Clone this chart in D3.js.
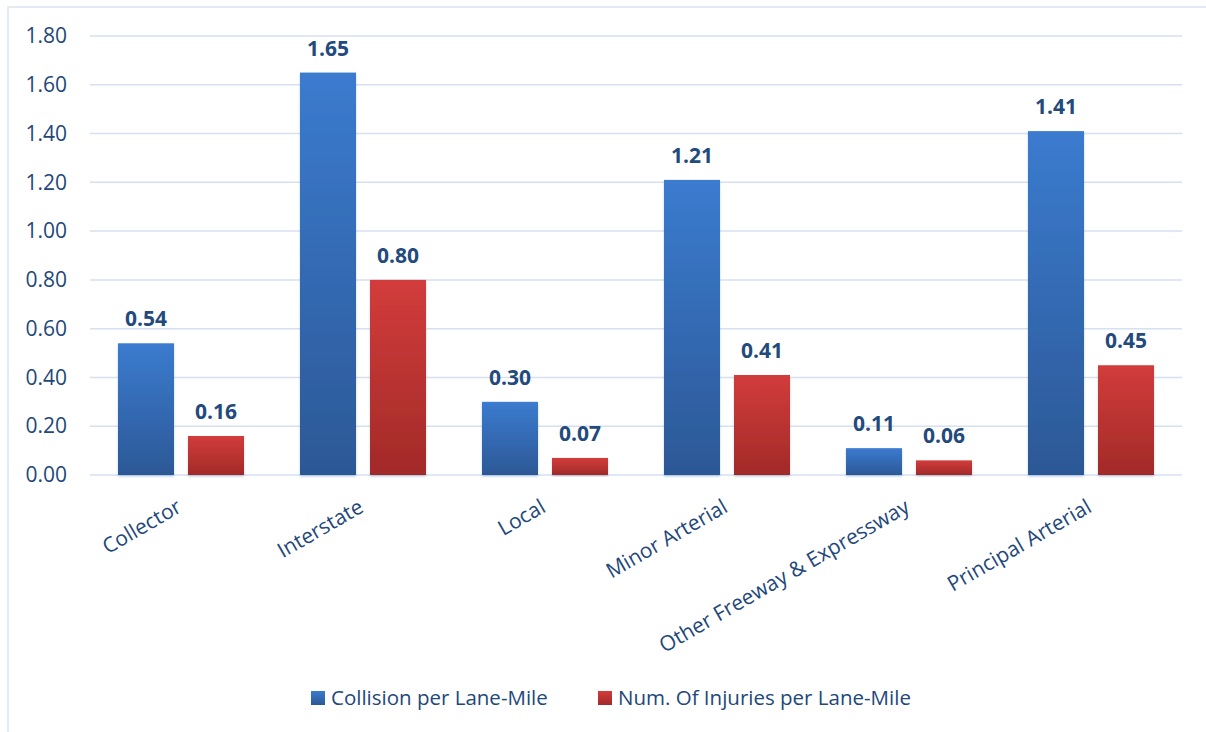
<!DOCTYPE html>
<html>
<head>
<meta charset="utf-8">
<script src="https://cdn.jsdelivr.net/npm/d3@7"></script>
<style>
  html, body { margin: 0; padding: 0; background: #ffffff; }
  svg { display: block; font-family: "Open Sans", "Noto Sans", sans-serif; }
</style>
</head>
<body>
<svg id="chart" width="1206" height="732"></svg>
<script>
// Road classes and their rates per lane-mile
const categories = ["Collector", "Interstate", "Local", "Minor Arterial", "Other Freeway & Expressway", "Principal Arterial"];
const collisionPerLaneMile = [0.54, 1.65, 0.30, 1.21, 0.11, 1.41];
const injuriesPerLaneMile = [0.16, 0.80, 0.07, 0.41, 0.06, 0.45];
const seriesNames = ["Collision per Lane-Mile", "Num. Of Injuries per Lane-Mile"];
const yTicks = [0, 0.2, 0.4, 0.6, 0.8, 1.0, 1.2, 1.4, 1.6, 1.8];

const seriesValues = [collisionPerLaneMile, injuriesPerLaneMile];
const rows = categories.map((c, i) => ({ category: c, values: seriesValues.map(s => s[i]) }));

const svg = d3.select("#chart");
const textColor = "#22477a";
const gridColor = "#d5e0f0";

const plot = { left: 90, right: 1182, top: 36, bottom: 475 };

// Gradients for the two series
const defs = svg.append("defs");
const gradStops = [
  ["grad-0", "#3b7bcf", "#2c5896"],
  ["grad-1", "#d23c3b", "#a22a28"]
];
gradStops.forEach(([id, top, bottom]) => {
  const g = defs.append("linearGradient").attr("id", id)
    .attr("x1", 0).attr("y1", 0).attr("x2", 0).attr("y2", 1);
  g.append("stop").attr("offset", "0%").attr("stop-color", top);
  g.append("stop").attr("offset", "100%").attr("stop-color", bottom);
});
const shadow = defs.append("filter").attr("id", "barShadow")
  .attr("x", "-20%").attr("y", "-5%").attr("width", "140%").attr("height", "115%");
shadow.append("feDropShadow").attr("dx", 0).attr("dy", 1.5).attr("stdDeviation", 1.2)
  .attr("flood-color", "#6d8fbf").attr("flood-opacity", 0.45);

// Outer chart border (continues past the right and bottom edges)
svg.append("rect")
  .attr("x", 8).attr("y", 7).attr("width", 1220).attr("height", 740)
  .attr("fill", "none").attr("stroke", "#d9e3f1").attr("stroke-width", 1.5);

// Scales
const x = d3.scaleBand().domain(categories).range([plot.left, plot.right]).padding(0);
const xSub = d3.scaleBand().domain(d3.range(seriesValues.length))
  .range([0, x.bandwidth()]).paddingInner(0.2).paddingOuter(0.4);
const y = d3.scaleLinear().domain([0, 1.8]).range([plot.bottom, plot.top]);

// Horizontal gridlines
svg.append("g").selectAll("line").data(yTicks).join("line")
  .attr("x1", plot.left).attr("x2", plot.right)
  .attr("y1", d => y(d)).attr("y2", d => y(d))
  .attr("stroke", gridColor).attr("stroke-width", 1.5);

// Y axis labels
const yAxis = svg.append("g").attr("transform", `translate(${plot.left},0)`)
  .call(d3.axisLeft(y).tickValues(yTicks).tickFormat(d3.format(".2f")).tickSize(0).tickPadding(23));
yAxis.select(".domain").remove();
yAxis.selectAll("text")
  .attr("fill", textColor).style("font-size", "21px")
  .style("font-family", "'Open Sans', 'Noto Sans', sans-serif");

// Bars
const groups = svg.append("g").selectAll("g").data(rows).join("g")
  .attr("transform", d => `translate(${x(d.category)},0)`);

groups.selectAll("rect").data(d => d.values.map((v, k) => ({ v, k }))).join("rect")
  .attr("x", d => xSub(d.k))
  .attr("width", xSub.bandwidth())
  .attr("y", d => y(d.v))
  .attr("height", d => y(0) - y(d.v))
  .attr("fill", d => `url(#grad-${d.k})`)
  .attr("filter", "url(#barShadow)");

// Value labels
groups.selectAll("text.value").data(d => d.values.map((v, k) => ({ v, k }))).join("text")
  .attr("class", "value")
  .attr("x", d => xSub(d.k) + xSub.bandwidth() / 2)
  .attr("y", d => y(d.v) - 17)
  .attr("text-anchor", "middle")
  .attr("fill", "#234a7d")
  .style("font-size", "21px").style("font-weight", "bold")
  .text(d => d3.format(".2f")(d.v));

// Rotated category labels
svg.append("g").selectAll("text").data(categories).join("text")
  .attr("transform", d => `translate(${x(d) + x.bandwidth() / 2 + 2},${plot.bottom + 36}) rotate(-30)`)
  .attr("text-anchor", "end")
  .attr("fill", textColor)
  .style("font-size", "21px")
  .text(d => d);

// Legend
const legendItems = [
  { name: seriesNames[0], k: 0, x: 311 },
  { name: seriesNames[1], k: 1, x: 598 }
];
const legend = svg.append("g");
legendItems.forEach(item => {
  legend.append("rect")
    .attr("x", item.x).attr("y", 691).attr("width", 14).attr("height", 14)
    .attr("fill", `url(#grad-${item.k})`);
  legend.append("text")
    .attr("x", item.x + 20).attr("y", 705)
    .attr("fill", textColor)
    .style("font-size", "20.5px")
    .text(item.name);
});
</script>
</body>
</html>
